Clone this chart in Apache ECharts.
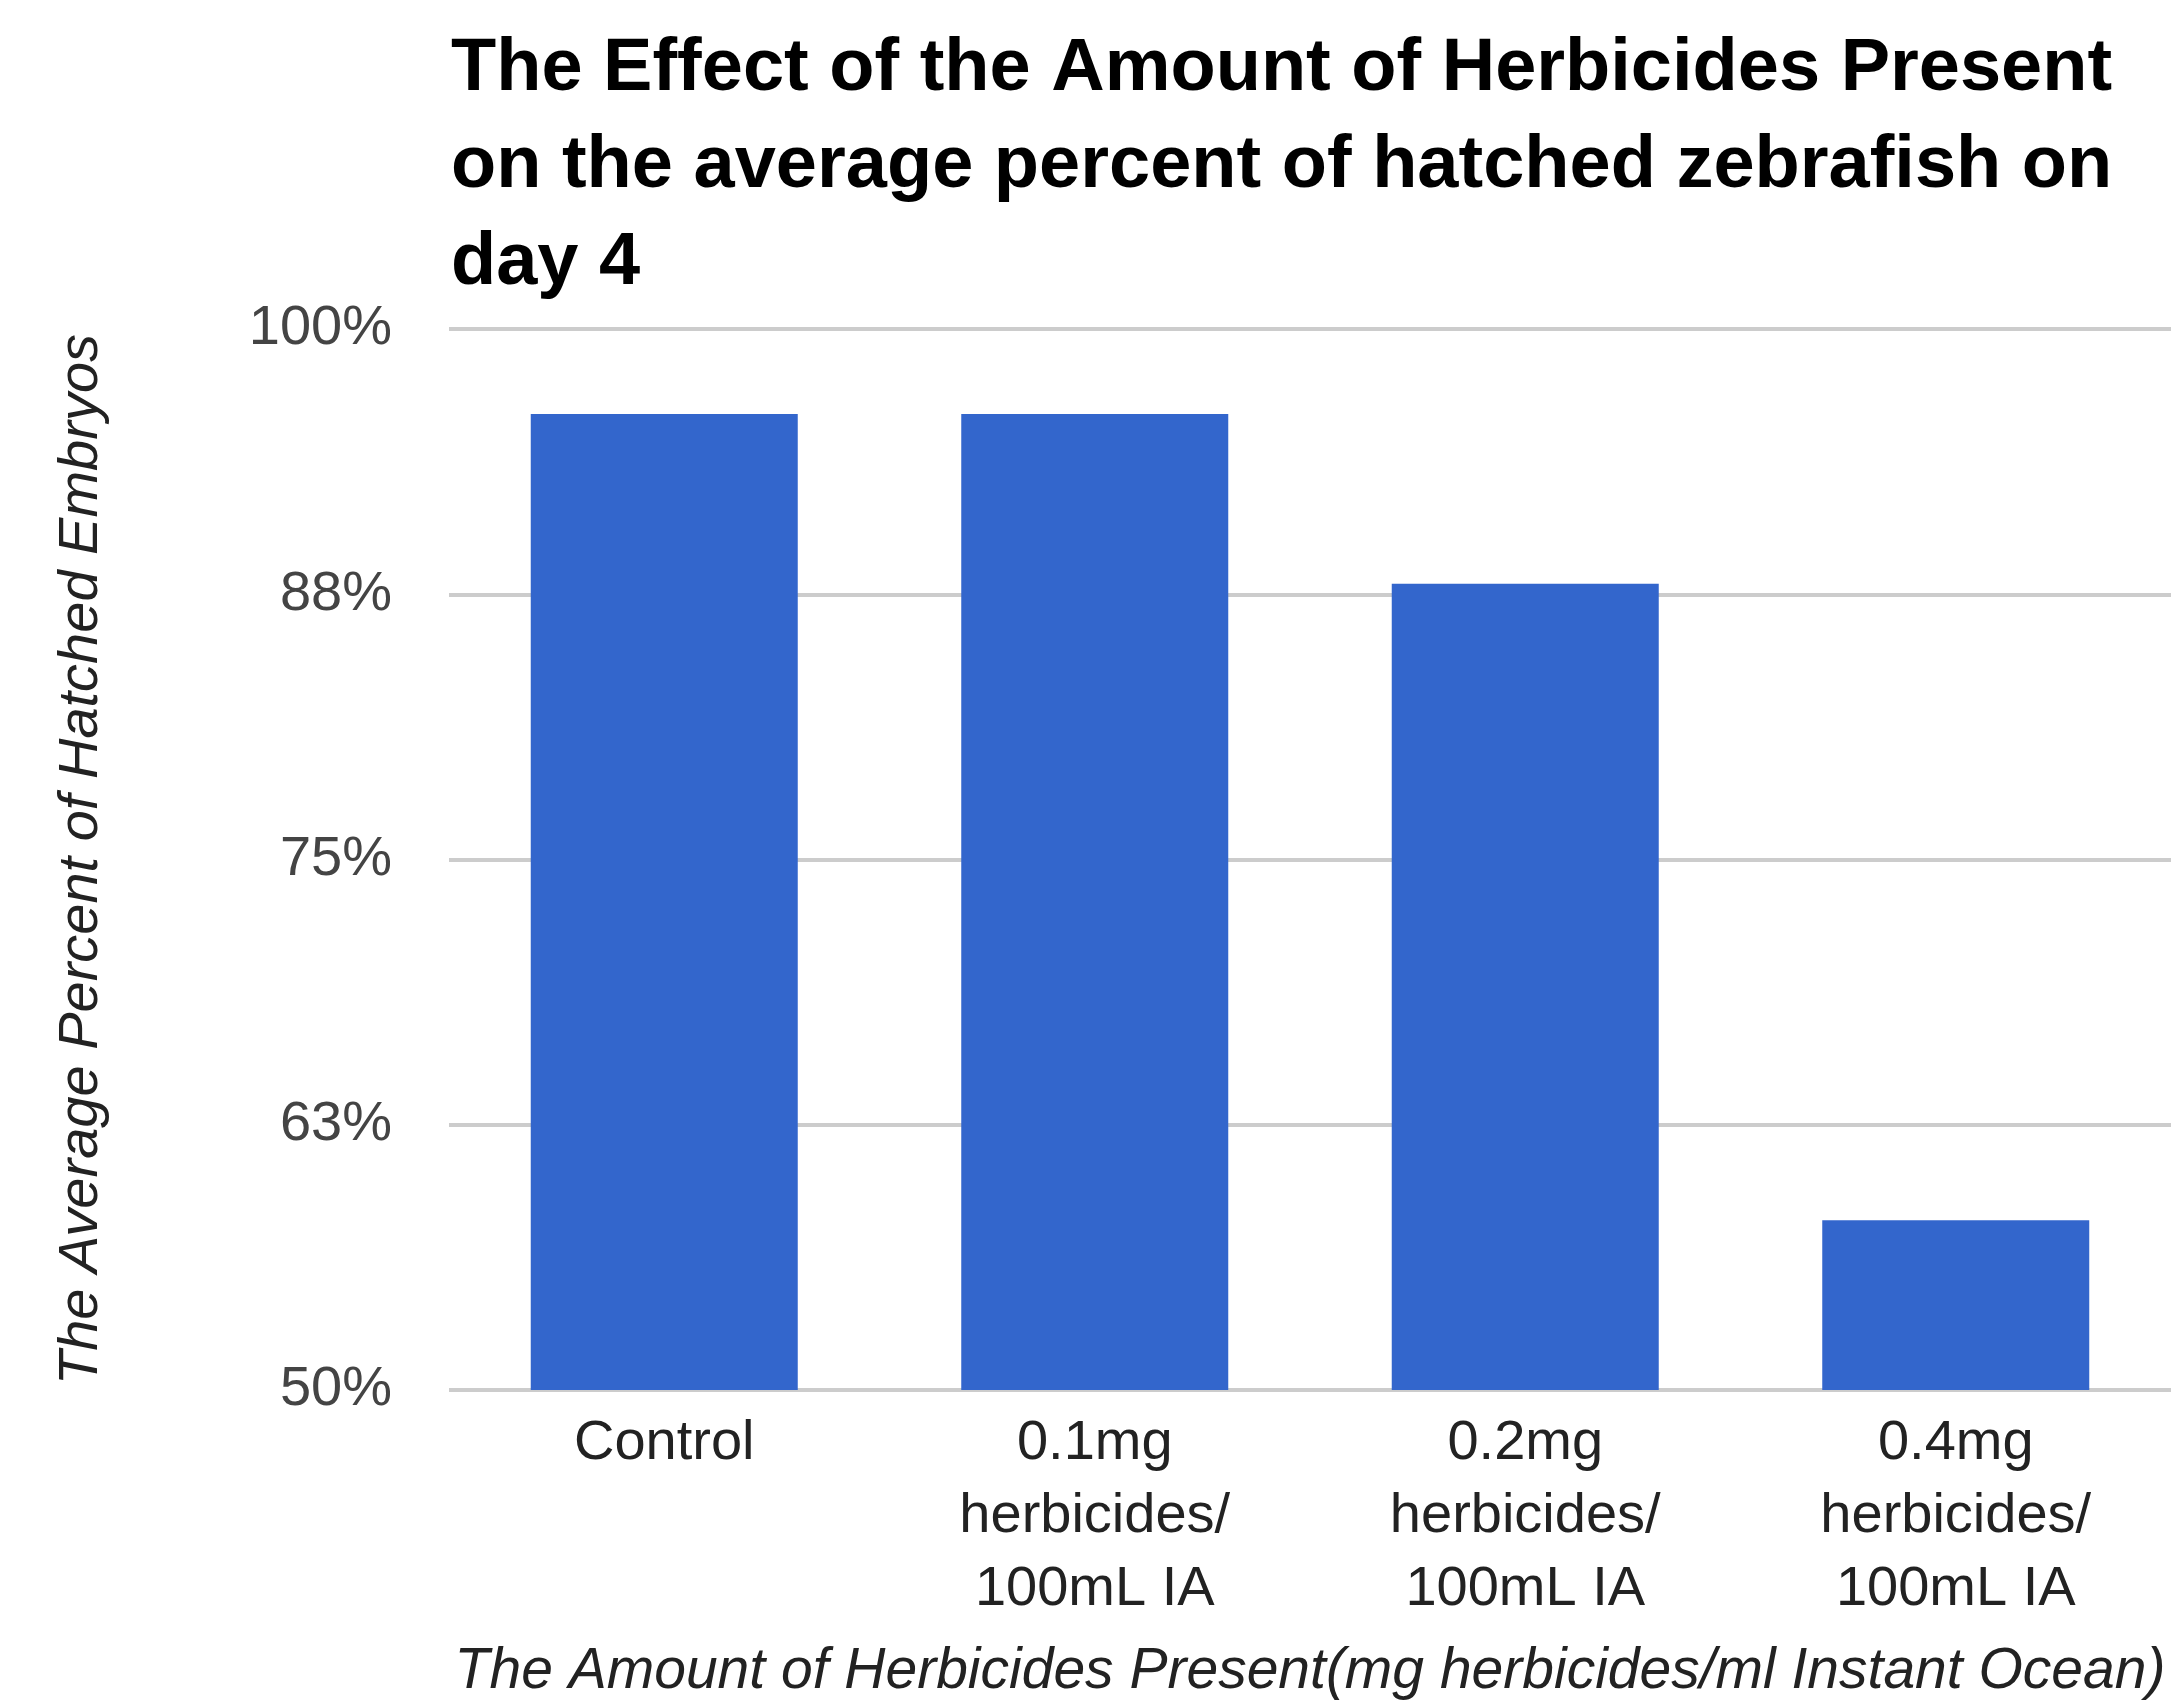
<!DOCTYPE html>
<html>
<head>
<meta charset="utf-8">
<title>Herbicides zebrafish</title>
<script src="https://cdn.jsdelivr.net/npm/echarts@6/dist/echarts.min.js"></script>
<style>
  html, body { margin: 0; padding: 0; background: #fff; }
  #chart { width: 2171px; height: 1706px; }
</style>
</head>
<body>
<div id="chart"></div>
<script>
// data
var categories = ['Control', '0.1mg\nherbicides/\n100mL IA', '0.2mg\nherbicides/\n100mL IA', '0.4mg\nherbicides/\n100mL IA'];
var hatched = [96, 96, 88, 58];
var yMin = 50, yMax = 100, yStep = 12.5;

var titleText = 'The Effect of the Amount of Herbicides Present\non the average percent of hatched zebrafish on\nday 4';
var xName = 'The Amount of Herbicides Present(mg herbicides/ml Instant Ocean)';
var yName = 'The Average Percent of Hatched Embryos';

var font = "'Liberation Sans', Arial, sans-serif";

var myChart = echarts.init(document.getElementById('chart'));

var option = {
	backgroundColor: '#ffffff',
	animation: false,
	title: {
		text: titleText,
		left: 446,
		top: 16,
		textStyle: {
			fontFamily: font,
			fontSize: 74,
			fontWeight: 'bold',
			color: '#000000',
			lineHeight: 97
		}
	},
	grid: {
		left: 449,
		top: 329,
		width: 1722,
		height: 1065,
		containLabel: false
	},
	xAxis: {
		type: 'category',
		data: categories,
		name: xName,
		nameLocation: 'middle',
		nameGap: 254,
		nameTextStyle: {
			fontFamily: font,
			fontSize: 57,
			fontStyle: 'italic',
			color: '#222222'
		},
		axisLine: { show: false },
		axisTick: { show: false },
		axisLabel: {
			interval: 0,
			margin: 17,
			fontFamily: font,
			fontSize: 56,
			lineHeight: 73,
			color: '#222222'
		}
	},
	yAxis: {
		type: 'value',
		min: yMin,
		max: yMax,
		interval: yStep,
		name: yName,
		nameLocation: 'middle',
		nameGap: 340,
		nameRotate: 90,
		nameTextStyle: {
			fontFamily: font,
			fontSize: 56,
			fontStyle: 'italic',
			color: '#222222'
		},
		axisLine: { show: false },
		axisTick: { show: false },
		splitLine: { lineStyle: { color: '#cccccc', width: 4 } },
		axisLabel: {
			margin: 57,
			fontFamily: font,
			fontSize: 56,
			color: '#444444',
			formatter: function (v) { return Math.round(v) + '%'; }
		}
	},
	series: [
		{
			name: 'hatched',
			type: 'bar',
			data: hatched,
			barWidth: 267,
			itemStyle: { color: '#3366cc' }
		}
	]
};

myChart.setOption(option);
</script>
</body>
</html>
